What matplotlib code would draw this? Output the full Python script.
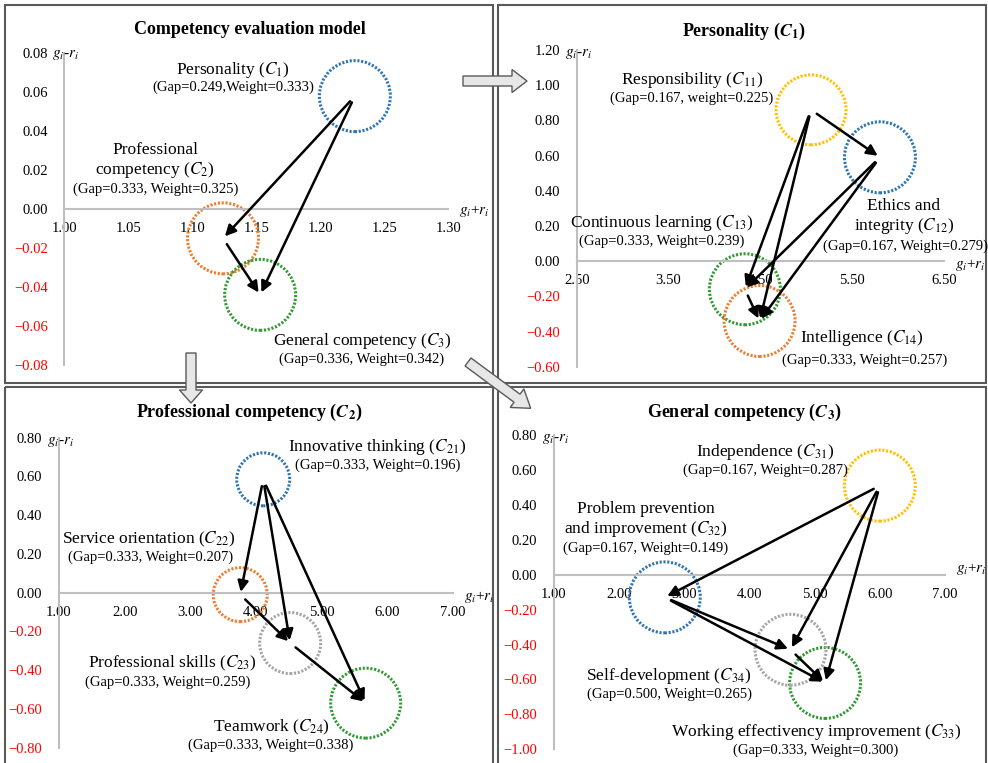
import matplotlib
matplotlib.use("Agg")
import matplotlib.pyplot as plt
from matplotlib.patches import Rectangle, FancyArrow

plt.rcParams['font.family'] = ['Liberation Serif', 'DejaVu Serif']
plt.rcParams['mathtext.fontset'] = 'stix'

W, H = 988, 763

# ---------------- data ----------------
# top-left: competency evaluation model
p0_names = ['Personality', 'Professional\ncompetency', 'General competency']
p0_codes = ['1', '2', '3']
p0_gap = [0.249, 0.333, 0.336]
p0_weight = [0.333, 0.325, 0.342]
p0_x = [1.227, 1.124, 1.153]
p0_y = [0.058, -0.015, -0.044]
p0_edges = [(0, 1), (0, 2), (1, 2)]
p0_xticks = [1.00, 1.05, 1.10, 1.15, 1.20, 1.25, 1.30]
p0_yticks = [-0.08, -0.06, -0.04, -0.02, 0.00, 0.02, 0.04, 0.06, 0.08]

# top-right: personality (C1)
p1_names = ['Responsibility', 'Ethics and\nintegrity', 'Continuous learning', 'Intelligence']
p1_codes = ['11', '12', '13', '14']
p1_gap = [0.167, 0.167, 0.333, 0.333]
p1_weight = [0.225, 0.279, 0.239, 0.257]
p1_x = [5.05, 5.80, 4.33, 4.49]
p1_y = [0.86, 0.59, -0.16, -0.34]
p1_edges = [(0, 1), (0, 2), (0, 3), (1, 2), (1, 3), (2, 3)]
p1_xticks = [2.50, 3.50, 4.50, 5.50, 6.50]
p1_yticks = [-0.60, -0.40, -0.20, 0.00, 0.20, 0.40, 0.60, 0.80, 1.00, 1.20]

# bottom-left: professional competency (C2)
p2_names = ['Innovative thinking', 'Service orientation', 'Professional skills', 'Teamwork']
p2_codes = ['21', '22', '23', '24']
p2_gap = [0.333, 0.333, 0.333, 0.333]
p2_weight = [0.196, 0.207, 0.259, 0.338]
p2_x = [4.11, 3.76, 4.52, 5.67]
p2_y = [0.585, -0.01, -0.26, -0.57]
p2_edges = [(0, 1), (0, 2), (0, 3), (1, 2), (2, 3)]
p2_xticks = [1.00, 2.00, 3.00, 4.00, 5.00, 6.00, 7.00]
p2_yticks = [-0.80, -0.60, -0.40, -0.20, 0.00, 0.20, 0.40, 0.60, 0.80]

# bottom-right: general competency (C3)
p3_names = ['Independence', 'Problem prevention\nand improvement',
            'Working effectivency improvement', 'Self-development']
p3_codes = ['31', '32', '33', '34']
p3_gap = [0.167, 0.167, 0.333, 0.500]
p3_weight = [0.287, 0.149, 0.300, 0.265]
p3_x = [6.00, 2.70, 5.16, 4.63]
p3_y = [0.51, -0.13, -0.62, -0.43]
p3_edges = [(0, 1), (0, 3), (0, 2), (1, 3), (1, 2), (3, 2)]
p3_xticks = [1.00, 2.00, 3.00, 4.00, 5.00, 6.00, 7.00]
p3_yticks = [-1.00, -0.80, -0.60, -0.40, -0.20, 0.00, 0.20, 0.40, 0.60, 0.80]

titles = ['Competency evaluation model', r'Personality ($\mathbfit{C}_\mathbf{1}$)',
          r'Professional competency ($\mathbfit{C}_\mathbf{2}$)',
          r'General competency ($\mathbfit{C}_\mathbf{3}$)']

# ---------------- style / layout (pixels) ----------------
BLUE, ORANGE, GREEN, GOLD, GRAY = '#2E75B6', '#ED7D31', '#339933', '#FFC000', '#A5A5A5'

panels = [
    dict(names=p0_names, codes=p0_codes, gap=p0_gap, weight=p0_weight, x=p0_x, y=p0_y,
         edges=p0_edges, xticks=p0_xticks, yticks=p0_yticks,
         box=(64.3, 448.3, 53.3, 365.0), title_xy=(250, 29),
         colors=[BLUE, ORANGE, GREEN], diam=[73, 73, 73],
         main_xy=[(233, 70), (155, 161), (362, 341)],
         sub_xy=[(233, 87), (156, 189), (362, 359)],
         ylab_dy=-1, xlab_dy=1),
    dict(names=p1_names, codes=p1_codes, gap=p1_gap, weight=p1_weight, x=p1_x, y=p1_y,
         edges=p1_edges, xticks=p1_xticks, yticks=p1_yticks,
         box=(576.7, 944.3, 50.0, 366.7), title_xy=(744, 31),
         colors=[GOLD, BLUE, GREEN, ORANGE], diam=[72, 73, 73, 73],
         main_xy=[(692, 80), (904, 217), (662, 223), (862, 338)],
         sub_xy=[(692, 98), (905, 246), (662, 241), (865, 360)],
         ylab_dy=-3, xlab_dy=3),
    dict(names=p2_names, codes=p2_codes, gap=p2_gap, weight=p2_weight, x=p2_x, y=p2_y,
         edges=p2_edges, xticks=p2_xticks, yticks=p2_yticks,
         box=(59.0, 453.0, 437.7, 747.7), title_xy=(249, 412),
         colors=[BLUE, ORANGE, GRAY, GREEN], diam=[55, 56, 63, 72],
         main_xy=[(377, 447), (149, 539), (172, 663), (271, 727)],
         sub_xy=[(378, 465), (151, 557), (168, 682), (271, 745)],
         ylab_dy=-3, xlab_dy=3),
    dict(names=p3_names, codes=p3_codes, gap=p3_gap, weight=p3_weight, x=p3_x, y=p3_y,
         edges=p3_edges, xticks=p3_xticks, yticks=p3_yticks,
         box=(554.0, 945.0, 435.0, 749.3), title_xy=(744, 412),
         colors=[GOLD, BLUE, GREEN, GRAY], diam=[73, 73, 73, 73],
         main_xy=[(765, 452), (646, 520), (816, 732), (669, 676)],
         sub_xy=[(765, 470), (646, 548), (816, 750), (669, 694)],
         ylab_dy=-3, xlab_dy=-4),
]

# sub-label quirks as printed in the original figure
sub_fmt = {(0, 0): '(Gap={:.3f},Weight={:.3f})', (1, 0): '(Gap={:.3f}, weight={:.3f})'}

fig = plt.figure(figsize=(W / 100, H / 100), dpi=100)

for k, p in enumerate(panels):
    l, r, t, b = p['box']
    ax = fig.add_axes([l / W, 1 - b / H, (r - l) / W, (b - t) / H])
    ax.patch.set_alpha(0)
    ax.set_xlim(p['xticks'][0], p['xticks'][-1])
    ax.set_ylim(p['yticks'][0], p['yticks'][-1])
    for s in ['top', 'right']:
        ax.spines[s].set_visible(False)
    ax.spines['bottom'].set_position(('data', 0))
    for s in ['bottom', 'left']:
        ax.spines[s].set_color('#BFBFBF')
        ax.spines[s].set_linewidth(1.5)
    ax.set_xticks(p['xticks'])
    ax.set_xticklabels([f'{v:.2f}' for v in p['xticks']])
    ax.set_yticks(p['yticks'])
    ax.set_yticklabels([f'{v:.2f}'.replace('-', '\u2212') for v in p['yticks']])
    ax.tick_params(length=0, labelsize=10.5)
    ax.tick_params(axis='y', pad=12)
    ax.tick_params(axis='x', pad=9.5)
    for lab, v in zip(ax.get_yticklabels(), p['yticks']):
        lab.set_color('red' if v < 0 else 'black')

    # axis names
    ax.annotate(r'$g_i$-$r_i$', (0, 1), xycoords='axes fraction', xytext=(1, p['ylab_dy']),
                textcoords='offset points', ha='center', va='center', fontsize=11)
    ax.annotate(r'$g_i$+$r_i$', (1, 0), xycoords=('axes fraction', 'data'),
                xytext=(8, -p['xlab_dy']), textcoords='offset points',
                ha='left', va='center', fontsize=11)

    # dotted circles
    for i in range(len(p['x'])):
        d = (p['diam'][i] - 2) * 0.72
        ax.scatter([p['x'][i]], [p['y'][i]], s=d ** 2, facecolors='none',
                   edgecolors=p['colors'][i], linewidths=2.2,
                   linestyles=[(0, (0.7, 0.55))], clip_on=False, zorder=2)

    # influence arrows
    for a, c in p['edges']:
        ax.annotate('', xy=(p['x'][c], p['y'][c]), xytext=(p['x'][a], p['y'][a]),
                    arrowprops=dict(arrowstyle='-|>', color='black', lw=1.8,
                                    mutation_scale=16, shrinkA=5, shrinkB=2),
                    zorder=3, annotation_clip=False)

# overlay in pixel coordinates for frames, block arrows and text
ov = fig.add_axes([0, 0, 1, 1], zorder=10)
ov.set_xlim(0, W)
ov.set_ylim(H, 0)
ov.axis('off')
ov.patch.set_alpha(0)

for (x0, y0, x1, y1) in [(5, 5, 493, 383), (498, 5, 986, 383),
                         (5, 387, 493, 775), (498, 387, 986, 775)]:
    ov.add_patch(Rectangle((x0, y0), x1 - x0, y1 - y0, fill=False,
                           ec='#595959', lw=1.5, zorder=1))

for (x0, y0, dx, dy, hl) in [(463, 81, 64, 0, 15), (191, 353, 0, 50, 13),
                             (468, 362, 62.7, 46.3, 17)]:
    ov.add_patch(FancyArrow(x0, y0, dx, dy, width=10, head_width=23, head_length=hl,
                            length_includes_head=True, fc='#E7E7E7', ec='#595959',
                            lw=1.0, zorder=5))

for k, p in enumerate(panels):
    ov.text(*p['title_xy'], titles[k], ha='center', va='center', fontsize=13,
            fontweight='bold')
    for i in range(len(p['names'])):
        main = p['names'][i] + ' ($C_{' + p['codes'][i] + '}$)'
        ov.text(*p['main_xy'][i], main, ha='center', va='center', fontsize=12.5,
                linespacing=1.2)
        fmt = sub_fmt.get((k, i), '(Gap={:.3f}, Weight={:.3f})')
        ov.text(*p['sub_xy'][i], fmt.format(p['gap'][i], p['weight'][i]),
                ha='center', va='center', fontsize=10.5)

fig.savefig('out.png', dpi=100)
